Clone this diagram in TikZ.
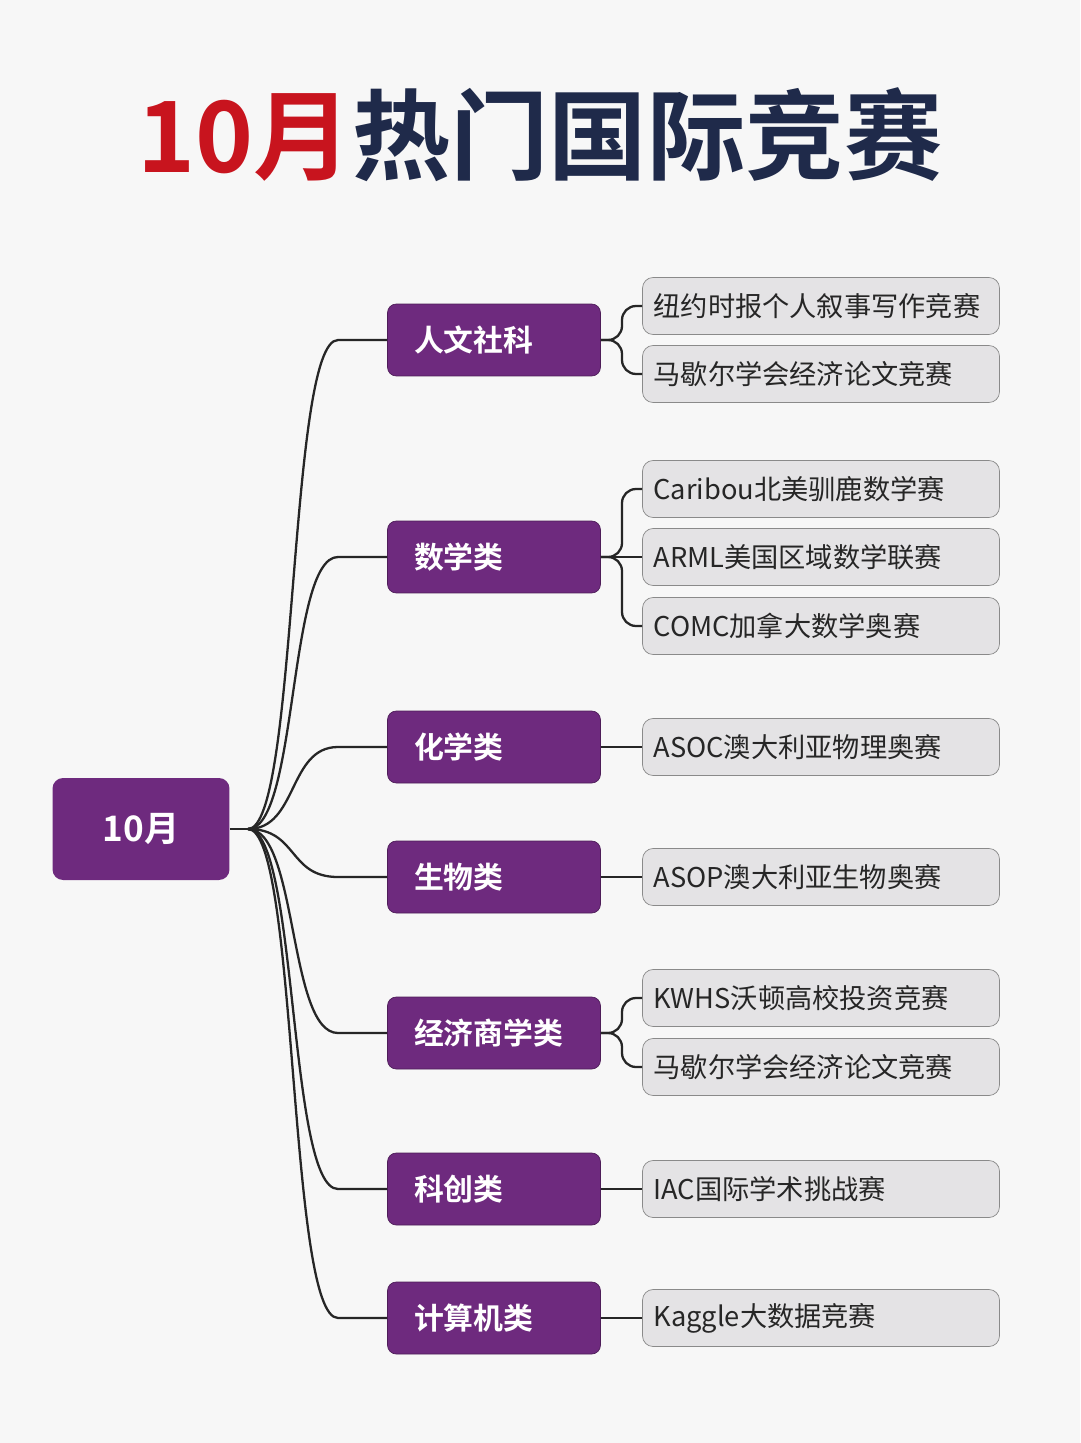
\documentclass[tikz,border=0pt]{standalone}
\usepackage{fontspec}
\setmainfont{Noto Sans CJK SC}[BoldFont={Noto Sans CJK SC Bold}]
\usetikzlibrary{positioning,calc}
\definecolor{Grape}{HTML}{6E2A7E}
\definecolor{LeafFill}{HTML}{E4E3E5}
\definecolor{LeafLine}{HTML}{8A8A8A}
\definecolor{TitleRed}{HTML}{C8141E}
\definecolor{TitleNavy}{HTML}{1F2A4A}
\begin{document}
\begin{tikzpicture}[
		x=0.02cm, y=-0.02cm,
		cat/.style={draw=Grape!70!black, fill=Grape, rounded corners=5pt, minimum width=4.26cm,
			minimum height=1.44cm, text=white, font=\fontsize{17}{20}\selectfont\bfseries,
			align=left, text width=3.2cm, inner xsep=0.53cm},
		leaf/.style={draw=LeafLine, fill=LeafFill, rounded corners=6pt, minimum width=7.14cm,
			minimum height=1.14cm, text=black!85, font=\fontsize{15.5}{18}\selectfont,
			align=left, text width=6.7cm, inner xsep=0.2cm},
		link/.style={line width=1.3pt, black!85},
	]
	\useasboundingbox[fill=black!3] (0,0) rectangle (1080,1443);
	% title
	\node(title) at (540,135) {\fontsize{56}{60}\selectfont\bfseries
		\textcolor{TitleRed}{10月}\textcolor{TitleNavy}{热门国际竞赛}};
	% root
	\node(root)[fill=Grape, rounded corners=6pt, minimum width=3.54cm, minimum height=2.04cm,
		text=white, font=\fontsize{20}{24}\selectfont\bfseries] at (141,829) {10月};
	\coordinate(hub) at (248,829);
	\draw[link] (root.east) -- (hub);
	% categories
	\node(c1)[cat] at (494,340) {人文社科};
	\node(c2)[cat] at (494,557) {数学类};
	\node(c3)[cat] at (494,747) {化学类};
	\node(c4)[cat] at (494,877) {生物类};
	\node(c5)[cat] at (494,1033) {经济商学类};
	\node(c6)[cat] at (494,1189) {科创类};
	\node(c7)[cat] at (494,1318) {计算机类};
	% leaves
	\node(l1)[leaf] at (821,306) {纽约时报个人叙事写作竞赛};
	\node(l2)[leaf] at (821,374) {马歇尔学会经济论文竞赛};
	\node(l3)[leaf] at (821,489) {Caribou北美驯鹿数学赛};
	\node(l4)[leaf] at (821,557) {ARML美国区域数学联赛};
	\node(l5)[leaf] at (821,626) {COMC加拿大数学奥赛};
	\node(l6)[leaf] at (821,747) {ASOC澳大利亚物理奥赛};
	\node(l7)[leaf] at (821,877) {ASOP澳大利亚生物奥赛};
	\node(l8)[leaf] at (821,998) {KWHS沃顿高校投资竞赛};
	\node(l9)[leaf] at (821,1067) {马歇尔学会经济论文竞赛};
	\node(l10)[leaf] at (821,1189) {IAC国际学术挑战赛};
	\node(l11)[leaf] at (821,1318) {Kaggle大数据竞赛};
	% root to categories
	\foreach \c in {c1,c2,c3,c4,c5,c6,c7}
		\draw[link] (hub) .. controls ($(hub)+(50,0)$) and ($(hub|-\c.west)+(40,0)$) .. ($(hub|-\c.west)+(90,0)$) -- (\c.west);
	% categories to leaves
	\foreach \c/\l in {c1/l1,c1/l2,c2/l3,c2/l5,c5/l8,c5/l9}
		\draw[link, rounded corners=8pt] (\c.east) -- (622,0|-\c.east) |- (\l.west);
	\foreach \c/\l in {c2/l4,c3/l6,c4/l7,c6/l10,c7/l11}
		\draw[link] (\c.east) -- (\l.west);
\end{tikzpicture}
\end{document}
